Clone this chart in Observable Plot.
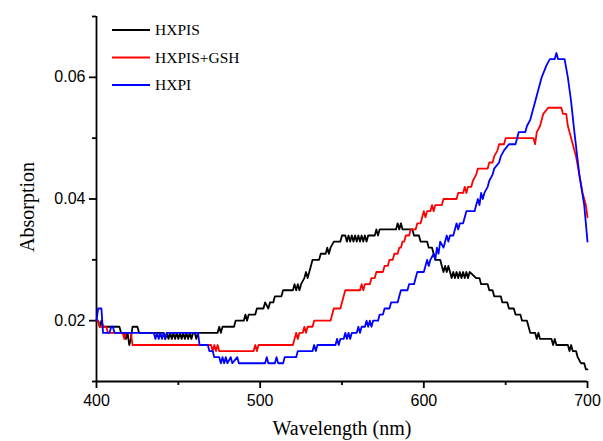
<!DOCTYPE html>
<html><head><meta charset="utf-8">
<script src="https://cdn.jsdelivr.net/npm/d3@7"></script>
<script src="https://cdn.jsdelivr.net/npm/@observablehq/plot@0.6"></script>
<style>body{margin:0;background:#fff}#chart svg{display:block}</style>
</head><body><div id="chart"></div>
<script>
const seriesNames = ["HXPIS", "HXPIS+GSH", "HXPI"];
const seriesColors = ["#000000", "#ff0000", "#0000ff"];
const xTicks = [400, 500, 600, 700];
const xMinorTicks = [450, 550, 650];
const yTicks = [0.02, 0.04, 0.06];
const yMinorTicks = [0.01, 0.03, 0.05, 0.07];
const xTitle = "Wavelength (nm)";
const yTitle = "Absorption";

const hxpisWl = [400,401,402,403,404,414,415,417,418,419,420,421,422,425,426,441,442,443,444,445,446,447,448,449,450,451,452,453,454,455,456,457,458,459,460,461,462,474,475,476,477,484,485,490,491,492,493,497,498,502,503,505,506,508,509,513,514,520,521,522,523,524,525,527,528,529,530,531,532,536,537,540,541,542,543,545,549,550,552,553,554,555,556,557,558,559,560,561,562,563,564,565,566,570,571,572,573,583,584,585,586,587,593,594,597,598,602,603,605,606,607,610,611,612,613,614,615,616,617,618,619,620,621,622,623,624,625,626,627,628,632,634,635,639,640,642,643,647,648,651,652,655,656,659,660,663,664,665,668,669,670,671,678,679,680,681,688,689,690,691,693,694,696,698,699,700];
const hxpisAbs = [.020,.020,.019,.020,.019,.019,.018,.018,.017,.018,.016,.017,.019,.019,.018,.018,.017,.018,.017,.018,.017,.018,.017,.018,.017,.018,.017,.018,.017,.018,.017,.018,.017,.018,.018,.017,.018,.018,.019,.018,.019,.019,.020,.020,.021,.020,.021,.021,.022,.022,.023,.022,.023,.023,.024,.024,.025,.025,.026,.025,.026,.025,.026,.027,.028,.027,.028,.029,.030,.030,.031,.031,.032,.031,.032,.033,.033,.034,.034,.033,.034,.033,.034,.033,.034,.033,.034,.033,.034,.033,.034,.033,.034,.034,.035,.034,.035,.035,.036,.035,.036,.035,.035,.034,.034,.033,.033,.032,.032,.031,.030,.030,.029,.028,.029,.028,.029,.028,.027,.028,.027,.028,.027,.028,.027,.028,.027,.028,.027,.028,.027,.027,.026,.026,.025,.025,.024,.024,.023,.023,.022,.022,.021,.021,.020,.020,.019,.018,.018,.017,.018,.017,.017,.016,.017,.016,.016,.015,.016,.015,.015,.014,.013,.013,.012,.012];

const gshWl = [400,401,402,406,407,416,417,418,421,422,470,471,472,473,474,475,496,497,498,499,520,521,522,523,524,526,527,528,529,532,533,543,544,545,549,550,551,552,561,562,563,564,567,568,570,571,575,576,578,579,581,582,584,585,586,587,588,589,591,592,595,596,598,599,600,601,602,604,605,606,607,611,612,620,621,624,625,626,627,629,630,632,633,639,640,642,643,645,646,649,650,667,668,669,671,673,676,684,685,687,688,689,691,693,695,697,699,700];
const gshAbs = [.020,.020,.019,.019,.018,.018,.017,.018,.018,.016,.016,.015,.016,.015,.016,.015,.015,.016,.015,.016,.016,.017,.018,.017,.018,.018,.019,.018,.019,.019,.020,.020,.021,.022,.022,.023,.024,.025,.025,.026,.025,.026,.026,.027,.027,.028,.028,.029,.029,.030,.030,.031,.031,.032,.032,.033,.033,.034,.034,.035,.035,.036,.036,.037,.038,.037,.038,.038,.039,.038,.039,.039,.040,.040,.041,.041,.042,.041,.042,.042,.043,.044,.045,.045,.046,.046,.047,.048,.049,.049,.050,.050,.049,.051,.052,.054,.055,.055,.054,.054,.052,.051,.049,.047,.044,.041,.039,.037];

const hxpiWl = [400,401,403,404,408,409,410,411,435,436,437,438,439,440,441,442,443,462,463,468,469,471,472,475,476,477,478,479,480,482,483,486,487,503,504,505,509,510,511,514,515,522,523,532,533,534,535,546,547,548,549,551,552,553,554,555,556,559,560,561,562,564,565,566,567,568,569,572,573,575,576,579,580,584,585,586,590,591,594,595,596,600,601,602,603,604,606,607,608,609,610,612,613,614,615,616,618,619,620,621,622,624,625,626,631,632,633,634,635,636,637,639,640,642,643,646,647,649,652,656,657,658,662,663,665,666,668,670,672,675,677,680,681,682,686,688,689,690,692,695,698,700];
const hxpiAbs = [.020,.022,.022,.018,.018,.019,.019,.018,.018,.017,.018,.017,.018,.017,.018,.017,.018,.018,.016,.016,.015,.015,.014,.014,.013,.014,.013,.014,.013,.014,.013,.014,.013,.013,.014,.013,.013,.014,.013,.013,.014,.014,.015,.015,.016,.015,.016,.016,.017,.016,.017,.017,.018,.017,.018,.017,.018,.018,.019,.018,.019,.019,.020,.019,.020,.019,.020,.020,.021,.021,.022,.022,.023,.023,.024,.025,.025,.026,.026,.027,.028,.028,.029,.030,.029,.030,.031,.030,.032,.031,.033,.032,.033,.034,.033,.034,.034,.035,.036,.035,.036,.036,.037,.038,.038,.039,.040,.039,.041,.040,.041,.042,.043,.044,.045,.046,.047,.048,.049,.049,.050,.051,.051,.052,.053,.054,.056,.058,.060,.062,.063,.063,.064,.063,.063,.060,.058,.056,.051,.044,.039,.033];

const seriesWl = [hxpisWl, gshWl, hxpiWl];
const seriesAbs = [hxpisAbs, gshAbs, hxpiAbs];
const rows = seriesNames.flatMap((name, i) =>
  seriesWl[i].map((wl, j) => ({series: name, wl, abs: seriesAbs[i][j]})));

const sans = "'Liberation Sans', Arial, Helvetica, sans-serif";
const serif = "'Liberation Serif', 'Times New Roman', Times, serif";

const chart = Plot.plot({
  width: 603, height: 441,
  marginLeft: 96, marginRight: 16, marginTop: 16, marginBottom: 60,
  x: {domain: [400, 700], label: null},
  y: {domain: [0.01, 0.07], label: null},
  color: {domain: seriesNames, range: seriesColors},
  style: {fontFamily: sans, fontSize: "16px", color: "#000", background: "#fff", overflow: "visible"},
  marks: [
    Plot.axisX({ticks: xTicks, tickSize: 7, tickPadding: 6, tickFormat: d => String(d), label: null, strokeWidth: 1.8, fontSize: 16}),
    Plot.axisX({ticks: xMinorTicks, tickSize: 4, tickFormat: () => "", label: null, strokeWidth: 1.8}),
    Plot.axisY({ticks: yTicks, tickSize: 7, tickPadding: 4, tickFormat: d3.format(".2f"), label: null, strokeWidth: 1.8, fontSize: 16}),
    Plot.axisY({ticks: yMinorTicks, tickSize: 4, tickFormat: () => "", label: null, strokeWidth: 1.8}),
    Plot.ruleX([400], {strokeWidth: 1.8}),
    Plot.ruleY([0.01], {strokeWidth: 1.8}),
    Plot.line(rows, {x: "wl", y: "abs", z: "series", stroke: "series", strokeWidth: 1.8})
  ]
});

const svg = d3.select(chart);
// axis titles
svg.append("text").text(xTitle)
  .attr("x", 342).attr("y", 435).attr("text-anchor", "middle")
  .style("font-family", serif).style("font-size", "20px").attr("fill", "#000");
svg.append("text").text(yTitle)
  .attr("transform", "translate(34,207) rotate(-90)").attr("text-anchor", "middle")
  .style("font-family", serif).style("font-size", "20px").attr("fill", "#000");
// legend
const lg = svg.append("g");
seriesNames.forEach((name, i) => {
  const yy = 30 + i * 27.5;
  lg.append("line").attr("x1", 112).attr("x2", 150).attr("y1", yy).attr("y2", yy)
    .attr("stroke", seriesColors[i]).attr("stroke-width", 1.8);
  lg.append("text").text(name).attr("x", 155).attr("y", yy).attr("dy", "0.35em")
    .attr("text-anchor", "start")
    .style("font-family", serif).style("font-size", "15.5px").attr("fill", "#000");
});
document.getElementById("chart").appendChild(chart);
</script>
</body></html>
